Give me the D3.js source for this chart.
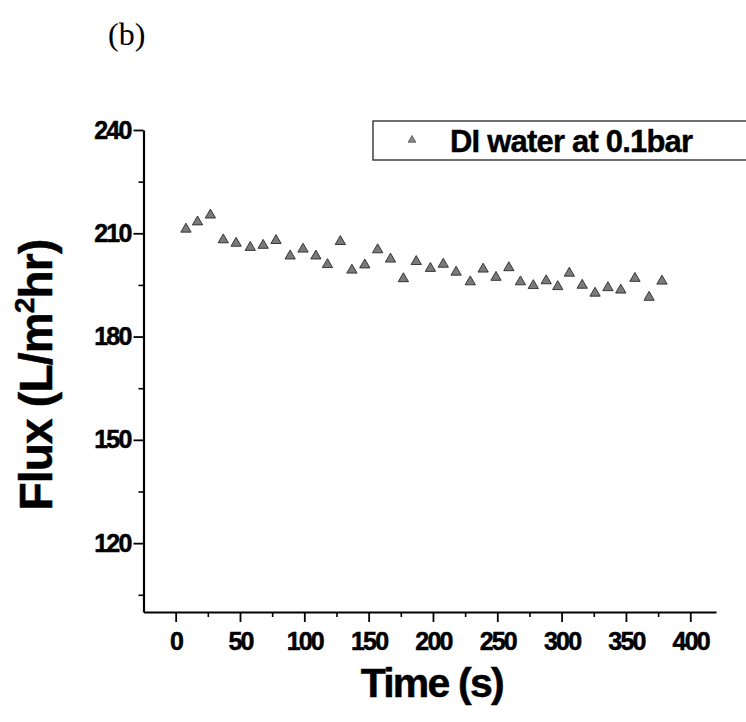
<!DOCTYPE html>
<html>
<head>
<meta charset="utf-8">
<script src="https://cdn.jsdelivr.net/npm/d3@7/dist/d3.min.js"></script>
<style>
  html, body { margin: 0; padding: 0; background: #fff; }
  svg { display: block; }
  .tick text { font-family: "Liberation Sans", Arial, sans-serif; font-weight: bold; }
</style>
</head>
<body>
<svg id="chart" width="746" height="722"></svg>
<script>
// ---- data ----
const seriesName = "DI water at 0.1bar";
const timeValues = [8, 17, 27, 37, 47, 58, 68, 78, 89, 99, 109, 118, 128, 137, 147, 157, 167, 177, 187, 198,
                    208, 218, 229, 239, 249, 259, 268, 278, 288, 297, 306, 316, 326, 336, 346, 357, 368, 378];
const fluxValues = [211.2, 213.3, 215.3, 208.1, 207.1, 205.9, 206.5, 207.9, 203.4, 205.4, 203.4, 200.9, 207.6, 199.3,
                    200.8, 205.2, 202.5, 196.8, 201.8, 199.8, 201.0, 198.7, 195.9, 199.6, 197.2, 200.0, 195.9, 194.8,
                    196.2, 194.5, 198.4, 194.9, 192.6, 194.2, 193.5, 196.9, 191.4, 196.1];
const xTickValues = [0, 50, 100, 150, 200, 250, 300, 350, 400];
const xMinorTicks = [25, 75, 125, 175, 225, 275, 325, 375];
const yTickValues = [120, 150, 180, 210, 240];
const yMinorTicks = [105, 135, 165, 195, 225];
const xLabel = "Time (s)";
const panelLabel = "(b)";

// ---- layout ----
const svg = d3.select("#chart");
const x = d3.scaleLinear().domain([-25, 420]).range([143.5, 716]);
const y = d3.scaleLinear().domain([100, 240]).range([612, 130]);

const font = '"Liberation Sans", Arial, Helvetica, sans-serif';

// minor ticks
svg.append("g").attr("transform", `translate(0,${y(100)})`)
  .call(d3.axisBottom(x).tickValues(xMinorTicks).tickSize(5).tickFormat(""))
  .call(g => g.select(".domain").remove())
  .selectAll("line").attr("stroke", "#000").attr("stroke-width", 1.6);
svg.append("g").attr("transform", `translate(${x(-25)},0)`)
  .call(d3.axisLeft(y).tickValues(yMinorTicks).tickSize(5).tickFormat(""))
  .call(g => g.select(".domain").remove())
  .selectAll("line").attr("stroke", "#000").attr("stroke-width", 1.6);

// major x axis
const gx = svg.append("g").attr("transform", `translate(0,${y(100)})`)
  .call(d3.axisBottom(x).tickValues(xTickValues).tickSize(10).tickSizeOuter(0).tickPadding(10).tickFormat(d3.format("d")));
gx.select(".domain").attr("stroke", "#000").attr("stroke-width", 2.2);
gx.selectAll(".tick line").attr("stroke", "#000").attr("stroke-width", 1.8);
gx.selectAll(".tick text").attr("font-size", 25).attr("fill", "#000")
  .attr("stroke", "#000").attr("stroke-width", 0.5)
  .attr("letter-spacing", "-1.8px").attr("dy", "0.7em");

// major y axis
const gy = svg.append("g").attr("transform", `translate(${x(-25)},0)`)
  .call(d3.axisLeft(y).tickValues(yTickValues).tickSize(10).tickSizeOuter(0).tickPadding(3).tickFormat(d3.format("d")));
gy.select(".domain").attr("stroke", "#000").attr("stroke-width", 2.2);
gy.selectAll(".tick line").attr("stroke", "#000").attr("stroke-width", 1.8);
gy.selectAll(".tick text").attr("font-size", 25).attr("fill", "#000")
  .attr("stroke", "#000").attr("stroke-width", 0.5)
  .attr("letter-spacing", "-1.8px");

// points
const tri = d3.symbol().type(d3.symbolTriangle).size(46);
svg.append("g").selectAll("path")
  .data(timeValues.map((t, i) => ({t, v: fluxValues[i]})))
  .join("path")
  .attr("d", tri)
  .attr("transform", d => `translate(${x(d.t)},${y(d.v)})`)
  .attr("fill", "#7a7a7a")
  .attr("stroke", "#2a2a2a")
  .attr("stroke-width", 0.9);

// legend
const lg = svg.append("g");
lg.append("rect").attr("x", 373).attr("y", 121).attr("width", 400).attr("height", 39)
  .attr("fill", "#fff").attr("stroke", "#333").attr("stroke-width", 1.4);
lg.append("path").attr("d", d3.symbol().type(d3.symbolTriangle).size(26))
  .attr("transform", "translate(412,140)")
  .attr("fill", "#888").attr("stroke", "#444").attr("stroke-width", 0.7);
lg.append("text").attr("x", 450).attr("y", 152)
  .attr("font-family", font).attr("font-weight", "bold").attr("font-size", 31)
  .attr("stroke", "#000").attr("stroke-width", 0.4)
  .attr("letter-spacing", "-0.8px").attr("fill", "#000")
  .text(seriesName);

// axis titles
svg.append("text")
  .attr("x", (x(-25) + x(420)) / 2 + 2).attr("y", 697)
  .attr("text-anchor", "middle")
  .attr("font-family", font).attr("font-weight", "bold").attr("font-size", 41)
  .attr("stroke", "#000").attr("stroke-width", 0.5)
  .attr("letter-spacing", "-1.8px").attr("fill", "#000")
  .text(xLabel);

const yTitle = svg.append("text")
  .attr("transform", `translate(52,${(y(100) + y(240)) / 2 + 4}) rotate(-90)`)
  .attr("text-anchor", "middle")
  .attr("font-family", font).attr("font-weight", "bold").attr("font-size", 46)
  .attr("stroke", "#000").attr("stroke-width", 0.5)
  .attr("letter-spacing", "-0.8px").attr("fill", "#000");
yTitle.append("tspan").text("Flux (L/m");
yTitle.append("tspan").attr("font-size", 28).attr("dy", -18).text("2");
yTitle.append("tspan").attr("dy", 18).text("hr)");

// panel label
svg.append("text").attr("x", 108).attr("y", 45)
  .attr("font-family", '"Liberation Serif", "Times New Roman", serif').attr("font-size", 32)
  .attr("fill", "#000").text(panelLabel);
</script>
</body>
</html>
